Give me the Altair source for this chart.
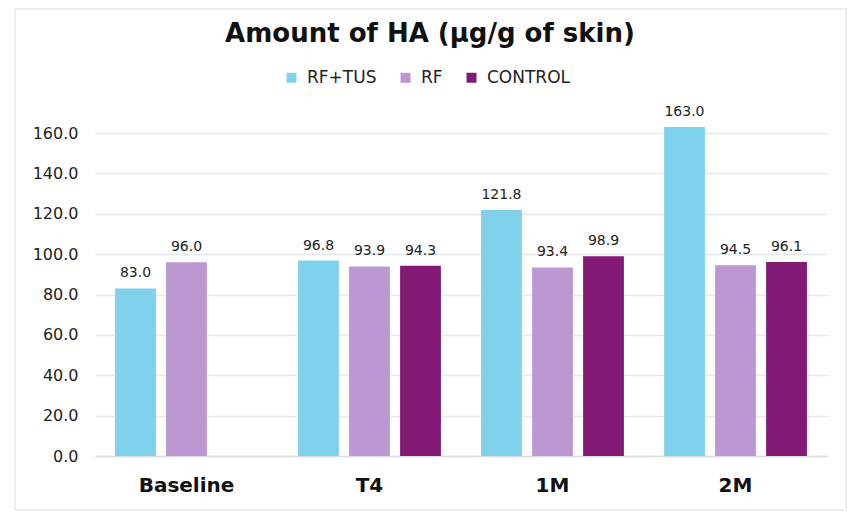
import altair as alt
import pandas as pd

periods = ["Baseline", "T4", "1M", "2M"]
groups = ["RF+TUS", "RF", "CONTROL"]
colors = ["#80D1EC", "#BD97D1", "#821A75"]
rf_tus = [83.0, 96.8, 121.8, 163.0]
rf = [96.0, 93.9, 93.4, 94.5]
control = [None, 94.3, 98.9, 96.1]
y_ticks = [0, 20, 40, 60, 80, 100, 120, 140, 160]

rows = []
for i, p in enumerate(periods):
    for g, vals in zip(groups, [rf_tus, rf, control]):
        if vals[i] is not None:
            rows.append({"period": p, "group": g, "value": vals[i]})
df = pd.DataFrame(rows)

FONT = "DejaVu Sans"

base = alt.Chart(df).encode(
    x=alt.X("period:N", sort=periods,
            scale=alt.Scale(paddingInner=0, paddingOuter=0),
            axis=alt.Axis(title=None, labelAngle=0, labelFontSize=20, labelFontWeight="bold",
                          labelFont=FONT, labelColor="#111111", labelPadding=19,
                          ticks=False, domainColor="#D9DEE7", domainWidth=1.5)),
    xOffset=alt.XOffset("group:N", sort=groups,
                        scale=alt.Scale(domain=groups, paddingInner=0.2, paddingOuter=0.394)),
    y=alt.Y("value:Q",
            scale=alt.Scale(domain=[0, 160], nice=False),
            axis=alt.Axis(title=None, values=y_ticks, format=".1f", labelFontSize=16,
                          labelFont=FONT, labelColor="#222222", labelPadding=17,
                          ticks=False, domain=False, gridColor="#E3E7EE", gridWidth=1.5)),
)

bars = base.mark_bar().encode(
    color=alt.Color("group:N", sort=groups,
                    scale=alt.Scale(domain=groups, range=colors),
                    legend=alt.Legend(title=None, orient="none", legendX=188, legendY=-64,
                                      direction="horizontal", symbolType="square",
                                      symbolSize=100, symbolStrokeWidth=0,
                                      labelFontSize=17, labelFont=FONT, labelColor="#222222",
                                      columnPadding=20, labelOffset=7))
)

labels = base.mark_text(dy=-11, baseline="alphabetic", fontSize=14, font=FONT,
                        color="#222222").encode(
    text=alt.Text("value:Q", format=".1f")
)

frame = alt.Chart(pd.DataFrame({"a": [0]})).mark_rect(
    fill=None, stroke="#E6E9EF", strokeWidth=1.5
).encode(
    x=alt.value(-80), x2=alt.value(751), y=alt.value(-124), y2=alt.value(377)
)

chart = alt.layer(frame, bars, labels).properties(
    width=732, height=323,
    padding={"left": 87, "top": 125, "right": 21, "bottom": 56},
    autosize=alt.AutoSizeParams(type="none"),
    title=alt.Title("Amount of HA (µg/g of skin)", fontSize=26, fontWeight="bold",
                    font=FONT, color="#111111", anchor="middle", dx=-31, offset=-39),
    background="white",
).configure_view(stroke=None)

chart.save("out.html", embed_options={"renderer": "svg", "actions": False})
